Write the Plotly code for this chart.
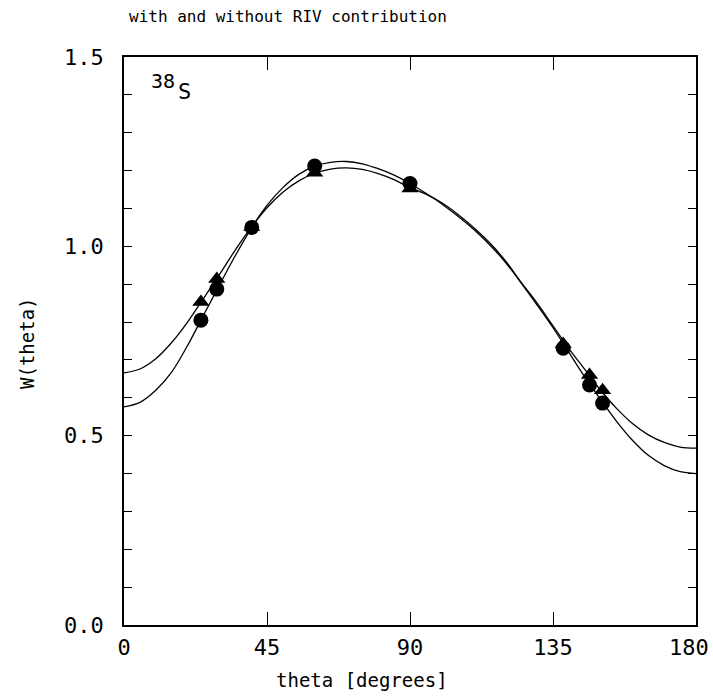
import plotly.graph_objects as go

# Fitted curves (theta in degrees)
curve_theta = [0, 5, 10, 15, 20, 25, 30, 35, 40, 45, 50, 55, 60, 65, 70, 75, 80, 85, 90,
               95, 100, 105, 110, 115, 120, 125, 130, 135, 140, 145, 150, 155, 160, 165, 170, 175, 180]
curve_tri = [0.666, 0.676, 0.703, 0.746, 0.800, 0.862, 0.925, 0.990, 1.050, 1.102, 1.143, 1.173,
             1.193, 1.204, 1.207, 1.203, 1.192, 1.176, 1.155, 1.138, 1.115, 1.085, 1.050, 1.010,
             0.962, 0.905, 0.850, 0.790, 0.730, 0.675, 0.620, 0.572, 0.532, 0.502, 0.482, 0.470, 0.467]
curve_circ = [0.576, 0.588, 0.620, 0.668, 0.738, 0.818, 0.897, 0.975, 1.047, 1.108, 1.155, 1.190,
              1.212, 1.222, 1.224, 1.218, 1.205, 1.188, 1.166, 1.140, 1.112, 1.080, 1.045, 1.005,
              0.958, 0.903, 0.845, 0.785, 0.720, 0.655, 0.595, 0.538, 0.488, 0.448, 0.421, 0.405, 0.400]

# Measured points
pt_theta = [24.2, 29.2, 40.2, 60.0, 90.0, 138.2, 146.5, 150.6]
pt_tri = [0.853, 0.914, 1.051, 1.194, 1.153, 0.742, 0.660, 0.620]
pt_circ = [0.805, 0.887, 1.050, 1.212, 1.166, 0.731, 0.634, 0.586]

x_ticks = [0, 45, 90, 135, 180]
x_tick_labels = ["0", "45", "90", "135", ""]
last_x_label = "180"
y_ticks = [0.0, 0.5, 1.0, 1.5]

FONT = "DejaVu Sans Mono"

fig = go.Figure()
fig.add_trace(go.Scatter(x=curve_theta, y=curve_tri, mode="lines", line=dict(color="black", width=1.3, shape="spline"),
                         showlegend=False, hoverinfo="skip"))
fig.add_trace(go.Scatter(x=curve_theta, y=curve_circ, mode="lines", line=dict(color="black", width=1.3, shape="spline"),
                         showlegend=False, hoverinfo="skip"))
fig.add_trace(go.Scatter(x=pt_theta, y=pt_tri, mode="markers",
                         marker=dict(symbol="triangle-up", size=15, color="black"), showlegend=False))
fig.add_trace(go.Scatter(x=pt_theta, y=pt_circ, mode="markers",
                         marker=dict(symbol="circle", size=15, color="black"), showlegend=False))

fig.update_layout(
    width=713, height=700,
    margin=dict(l=124, r=17, t=57, b=75, autoexpand=False),
    paper_bgcolor="white", plot_bgcolor="white",
    font=dict(family=FONT, color="black"),
    xaxis=dict(range=[0, 180], tickvals=x_ticks, ticktext=x_tick_labels,
               ticks="inside", ticklen=13, tickwidth=1.2, tickcolor="black",
               showline=True, linecolor="black", linewidth=1.5, mirror="ticks",
               showgrid=False, zeroline=False, tickfont=dict(size=22, family=FONT),
               ticklabelstandoff=2, automargin=False),
    yaxis=dict(range=[0, 1.5], tickvals=y_ticks, ticktext=["%.1f" % v for v in y_ticks],
               ticks="inside", ticklen=8, tickwidth=1.2, tickcolor="black",
               minor=dict(dtick=0.1, ticks="inside", ticklen=8, tickwidth=1.2, tickcolor="black", showgrid=False),
               showline=True, linecolor="black", linewidth=1.5, mirror="ticks",
               showgrid=False, zeroline=False, tickfont=dict(size=22, family=FONT),
               ticklabelstandoff=14, automargin=False),
)

def px_x(px):
    return (px - 124) / 572

def px_y(py):
    return (625 - py) / 568

fig.add_annotation(text=last_x_label, xref="x", yref="paper", x=x_ticks[-1], y=px_y(647),
                   xanchor="right", yanchor="middle", xshift=15, showarrow=False,
                   font=dict(size=22, family=FONT))
fig.add_annotation(text="with and without RIV contribution", xref="paper", yref="paper",
                   x=px_x(288), y=px_y(16), showarrow=False,
                   font=dict(size=16, family=FONT), xanchor="center", yanchor="middle")
fig.add_annotation(text="theta [degrees]", xref="paper", yref="paper",
                   x=px_x(362), y=px_y(680), showarrow=False,
                   font=dict(size=19, family=FONT), xanchor="center", yanchor="middle")
fig.add_annotation(text="W(theta)", xref="paper", yref="paper",
                   x=px_x(27), y=px_y(343), showarrow=False, textangle=-90,
                   font=dict(size=19, family=FONT), xanchor="center", yanchor="middle")
fig.add_annotation(text="38", xref="paper", yref="paper",
                   x=px_x(163), y=px_y(81), showarrow=False,
                   font=dict(size=20, family=FONT), xanchor="center", yanchor="middle")
fig.add_annotation(text="S", xref="paper", yref="paper",
                   x=px_x(184), y=px_y(92), showarrow=False,
                   font=dict(size=22, family=FONT), xanchor="center", yanchor="middle")

fig.write_html("out.html", config={"displayModeBar": False},
               post_script="document.body.style.margin='0';document.body.style.overflow='hidden';")
